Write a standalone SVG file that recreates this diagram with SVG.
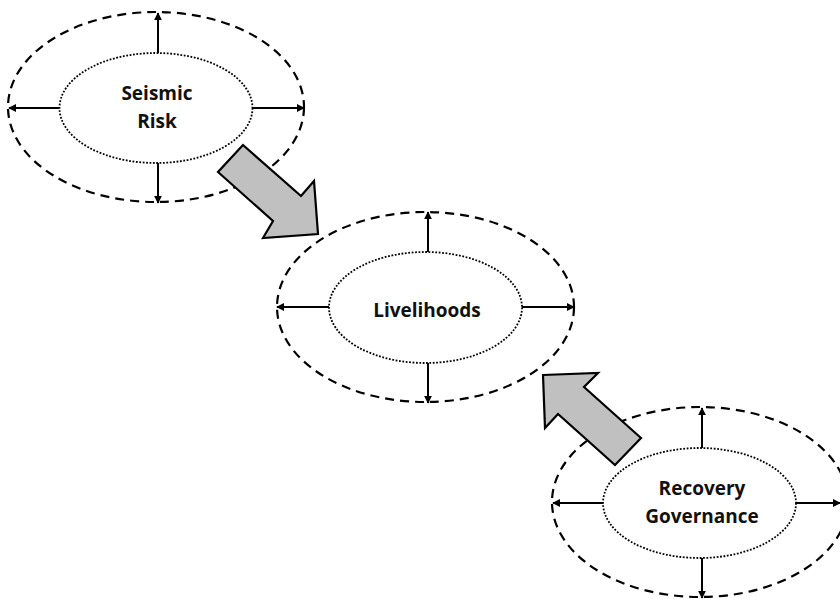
<svg xmlns="http://www.w3.org/2000/svg" width="840" height="599" viewBox="0 0 840 599">
<defs>
<marker id="ah" viewBox="0 0 10 10" refX="9" refY="5" markerWidth="8" markerHeight="8" markerUnits="userSpaceOnUse" orient="auto">
<path d="M0,0 L10,5 L0,10 Z" fill="#000"/>
</marker>
<style>
.outer{fill:none;stroke:#000;stroke-width:2.2;stroke-dasharray:9 6}
.inner{fill:none;stroke:#000;stroke-width:1.8;stroke-dasharray:1.8 1.6}
.spoke{stroke:#000;stroke-width:2;fill:none;marker-end:url(#ah)}
.big{fill:#c0c0c0;stroke:#000;stroke-width:2.2;stroke-linejoin:miter}
.lbl{font-family:"Open Sans","Noto Sans",sans-serif;font-weight:700;font-size:19px;text-anchor:middle;fill:#111}
</style>
</defs>
<rect width="840" height="599" fill="#fff"/>
<g id="seismic-risk">
<ellipse class="outer" cx="156" cy="107" rx="148" ry="95"/>
<ellipse class="inner" cx="156" cy="108" rx="96.5" ry="55"/>
<text class="lbl" x="157" y="100">Seismic</text>
<text class="lbl" x="157" y="128">Risk</text>
</g>
<g id="livelihoods">
<ellipse class="outer" cx="425.5" cy="307" rx="148.5" ry="95"/>
<ellipse class="inner" cx="425.5" cy="307.5" rx="96.5" ry="55.5"/>
<text class="lbl" x="427" y="317">Livelihoods</text>
</g>
<g id="recovery-governance">
<ellipse class="outer" cx="700" cy="502" rx="148" ry="95"/>
<ellipse class="inner" cx="699.5" cy="503" rx="96.5" ry="55"/>
<text class="lbl" x="702" y="495">Recovery</text>
<text class="lbl" x="702" y="523">Governance</text>
</g>
<g id="connectors">
<line class="spoke" x1="158" y1="53" x2="158" y2="13"/>
<line class="spoke" x1="158" y1="163" x2="158" y2="203"/>
<line class="spoke" x1="59" y1="108" x2="9" y2="108"/>
<line class="spoke" x1="252" y1="108" x2="304" y2="108"/>
<line class="spoke" x1="428" y1="252" x2="428" y2="212"/>
<line class="spoke" x1="428" y1="363" x2="428" y2="403"/>
<line class="spoke" x1="329" y1="307" x2="277" y2="307"/>
<line class="spoke" x1="522" y1="307" x2="574" y2="307"/>
<line class="spoke" x1="702" y1="448" x2="702" y2="408"/>
<line class="spoke" x1="702" y1="558" x2="702" y2="598"/>
<line class="spoke" x1="603" y1="503" x2="553" y2="503"/>
<line class="spoke" x1="796" y1="503" x2="840" y2="503"/>
<polygon class="big" points="243,145 301,196 314,181 318,234 263,238 273,221 218,172"/>
<polygon class="big" points="543,375 598,373 584,387 641,438 615,465 558,414 545,428"/>
</g>
</svg>
